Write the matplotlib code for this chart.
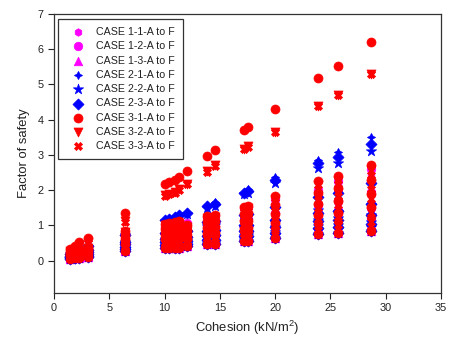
import numpy as np
import matplotlib
matplotlib.use("Agg")
import matplotlib.pyplot as plt

plt.rcParams['font.family'] = ['Liberation Sans', 'DejaVu Sans']
plt.rcParams['mathtext.default'] = 'regular'

# Cohesion values (kN/m^2), one column of points per value
cohesion = [1.45, 1.9, 2.3, 3.1, 6.4, 10.0, 10.4, 10.9, 11.3, 12.0,
            13.8, 14.6, 17.2, 17.5, 20.0, 23.9, 25.7, 28.7]

# Factor of safety, sub-cases A..F for every cohesion value
case_1_1 = [[.16,.12,.10,.08,.06,.05],[.19,.15,.12,.09,.07,.06],[.23,.18,.14,.11,.09,.08],
            [.33,.25,.20,.16,.13,.10],[.62,.50,.42,.36,.31,.27],[.92,.72,.58,.49,.42,.36],
            [.94,.73,.59,.50,.42,.36],[.96,.74,.60,.50,.43,.36],[.99,.75,.61,.51,.43,.36],
            [1.02,.77,.63,.54,.46,.40],[1.18,.92,.75,.63,.54,.47],[1.22,.95,.77,.65,.55,.47],
            [1.45,1.12,.90,.76,.64,.56],[1.48,1.14,.92,.77,.65,.56],[1.70,1.32,1.05,.88,.75,.64],
            [2.05,1.52,1.25,1.04,.88,.75],[2.18,1.64,1.32,1.09,.92,.78],[2.45,1.86,1.46,1.19,.99,.84]]
case_1_2 = [[.17,.13,.10,.08,.06,.05],[.20,.15,.12,.09,.07,.06],[.24,.19,.15,.12,.09,.08],
            [.35,.26,.21,.17,.13,.10],[.65,.52,.44,.37,.32,.27],[.96,.74,.60,.50,.43,.36],
            [.98,.75,.61,.51,.43,.36],[1.00,.76,.62,.52,.44,.36],[1.03,.78,.63,.53,.44,.36],
            [1.06,.80,.65,.55,.47,.40],[1.23,.95,.77,.65,.55,.47],[1.27,.98,.79,.66,.56,.47],
            [1.50,1.16,.93,.78,.66,.56],[1.53,1.18,.95,.79,.66,.56],[1.76,1.36,1.08,.90,.76,.64],
            [2.00,1.58,1.28,1.06,.89,.75],[2.25,1.70,1.36,1.12,.94,.78],[2.60,1.95,1.50,1.22,1.01,.84]]
case_1_3 = [[.15,.12,.09,.07,.06,.05],[.18,.14,.11,.09,.07,.06],[.22,.17,.14,.11,.09,.08],
            [.31,.24,.19,.15,.12,.10],[.59,.48,.41,.35,.31,.27],[.88,.70,.57,.48,.41,.36],
            [.90,.71,.58,.49,.41,.36],[.92,.72,.59,.49,.42,.36],[.95,.73,.60,.50,.42,.36],
            [.98,.75,.62,.53,.45,.40],[1.13,.89,.73,.62,.53,.47],[1.17,.92,.75,.63,.54,.47],
            [1.40,1.08,.88,.74,.63,.56],[1.43,1.10,.89,.75,.64,.56],[1.64,1.28,1.02,.86,.74,.64],
            [1.98,1.48,1.22,1.02,.87,.75],[2.10,1.58,1.28,1.07,.91,.78],[2.36,1.76,1.40,1.16,.97,.84]]
case_2_1 = [[.20,.15,.12,.09,.07,.05],[.24,.18,.14,.11,.08,.06],[.28,.22,.17,.13,.10,.08],
            [.42,.30,.24,.18,.13,.10],[.76,.55,.48,.40,.33,.27],[1.18,.80,.62,.52,.44,.36],
            [1.22,.81,.63,.53,.44,.36],[1.26,.82,.64,.54,.45,.36],[1.31,.83,.65,.55,.45,.36],
            [1.38,.85,.67,.57,.48,.40],[1.58,1.08,.80,.68,.57,.47],[1.66,1.10,.82,.70,.58,.47],
            [1.96,1.20,.93,.80,.68,.56],[2.04,1.22,.95,.81,.68,.56],[2.36,1.35,1.10,.92,.78,.64],
            [2.86,1.62,1.30,1.08,.92,.75],[3.08,1.70,1.36,1.13,.96,.78],[3.50,1.90,1.50,1.22,1.02,.84]]
case_2_2 = [[.18,.14,.11,.08,.06,.05],[.22,.17,.13,.10,.08,.06],[.26,.20,.16,.12,.10,.08],
            [.38,.28,.22,.17,.13,.10],[.72,.52,.45,.38,.32,.27],[1.12,.74,.60,.50,.42,.36],
            [1.16,.75,.61,.51,.43,.36],[1.20,.76,.62,.52,.43,.36],[1.25,.78,.63,.53,.44,.36],
            [1.32,.80,.65,.55,.47,.40],[1.50,.98,.78,.66,.56,.47],[1.56,1.00,.80,.68,.57,.47],
            [1.88,.93,.80,.70,.62,.56],[1.93,.95,.82,.72,.63,.56],[2.20,1.10,.95,.82,.72,.64],
            [2.63,1.44,1.15,.98,.86,.75],[2.77,1.39,1.20,1.02,.90,.78],[3.10,1.58,1.30,1.10,.96,.84]]
case_2_3 = [[.19,.14,.11,.09,.07,.05],[.23,.17,.13,.10,.08,.06],[.27,.21,.16,.13,.10,.08],
            [.40,.29,.23,.18,.14,.10],[.74,.53,.46,.39,.33,.27],[1.15,.78,.62,.52,.44,.36],
            [1.19,.79,.63,.53,.44,.36],[1.23,.80,.64,.54,.45,.36],[1.28,.81,.65,.55,.45,.36],
            [1.35,.83,.67,.57,.48,.40],[1.54,1.10,.84,.70,.58,.47],[1.60,1.12,.86,.72,.59,.47],
            [1.92,1.30,1.00,.84,.70,.56],[1.98,1.32,1.02,.85,.70,.56],[2.29,1.52,1.15,.95,.78,.64],
            [2.77,1.80,1.36,1.12,.92,.75],[2.95,1.93,1.42,1.16,.96,.78],[3.30,2.20,1.60,1.28,1.04,.84]]
case_3_1 = [[.32,.24,.20,.16,.12,.05],[.40,.28,.23,.19,.14,.06],[.52,.33,.28,.22,.17,.08],
            [.64,.38,.32,.26,.20,.10],[1.35,.85,.73,.60,.48,.27],[2.18,1.05,.90,.75,.61,.36],
            [2.24,1.07,.92,.77,.61,.36],[2.30,1.10,.94,.78,.62,.36],[2.38,1.12,.96,.79,.63,.36],
            [2.55,1.00,.87,.74,.61,.40],[2.98,1.27,1.10,.93,.76,.47],[3.15,1.30,1.12,.94,.77,.47],
            [3.70,1.52,1.31,1.11,.90,.56],[3.79,1.55,1.34,1.13,.92,.56],[4.30,1.82,1.57,1.31,1.06,.64],
            [5.18,2.25,1.93,1.61,1.29,.75],[5.52,2.39,2.05,1.70,1.36,.78],[6.20,2.70,2.30,1.90,1.51,.84]]
case_3_2 = [[.27,.23,.19,.15,.10,.08],[.34,.26,.22,.17,.12,.09],[.44,.31,.26,.20,.15,.11],
            [.52,.36,.30,.24,.18,.14],[1.12,.81,.68,.56,.44,.35],[1.85,1.00,.85,.71,.56,.46],
            [1.90,1.02,.87,.72,.56,.46],[1.95,1.05,.89,.73,.57,.47],[2.02,1.07,.90,.74,.58,.47],
            [2.18,.96,.83,.70,.57,.49],[2.53,1.21,1.04,.87,.70,.59],[2.70,1.24,1.06,.88,.71,.59],
            [3.18,1.45,1.25,1.04,.83,.70],[3.24,1.48,1.27,1.06,.85,.70],[3.66,1.74,1.48,1.23,.98,.81],
            [4.40,2.14,1.82,1.50,1.18,.96],[4.71,2.27,1.93,1.59,1.24,1.01],[5.31,2.57,2.17,1.77,1.37,1.11]]
case_3_3 = [[.26,.21,.17,.13,.09,.06],[.33,.25,.20,.15,.11,.08],[.43,.29,.24,.19,.13,.10],
            [.51,.34,.28,.22,.16,.12],[1.10,.77,.64,.52,.39,.31],[1.83,.95,.80,.66,.51,.41],
            [1.88,.97,.82,.66,.51,.41],[1.93,.99,.84,.68,.52,.41],[2.00,1.01,.85,.69,.52,.41],
            [2.16,.91,.79,.66,.53,.44],[2.51,1.16,.98,.81,.64,.53],[2.68,1.18,1.00,.83,.65,.53],
            [3.16,1.38,1.18,.97,.77,.63],[3.22,1.41,1.20,.99,.78,.63],[3.64,1.65,1.40,1.15,.89,.72],
            [4.38,2.04,1.71,1.39,1.07,.86],[4.69,2.16,1.82,1.47,1.13,.90],[5.29,2.43,2.04,1.64,1.24,.97]]

labels = ['CASE 1-1-A to F', 'CASE 1-2-A to F', 'CASE 1-3-A to F',
          'CASE 2-1-A to F', 'CASE 2-2-A to F', 'CASE 2-3-A to F',
          'CASE 3-1-A to F', 'CASE 3-2-A to F', 'CASE 3-3-A to F']
series = [case_1_1, case_1_2, case_1_3, case_2_1, case_2_2, case_2_3,
          case_3_1, case_3_2, case_3_3]
colors = ['#FF00FF'] * 3 + ['#0000FF'] * 3 + ['#FF0000'] * 3
markers = ['h', 'o', '^', (4, 1, 0), '*', 'D', 'o', 'v', 'X']
sizes = [30, 38, 38, 34, 60, 32, 42, 42, 34]

fig = plt.figure(figsize=(4.49, 3.43), dpi=100)
ax = fig.add_axes([54/449, 1-293/343, 387/449, 279/343])

for vals, lab, col, mk, sz in zip(series, labels, colors, markers, sizes):
    arr = np.asarray(vals)
    xs = np.repeat(cohesion, arr.shape[1])
    ax.scatter(xs, arr.ravel(), s=sz, marker=mk, color=col, edgecolors=col,
               linewidths=0.5, label=lab, zorder=3)

ax.set_xlim(0, 35)
ax.set_ylim(-0.92, 7)
ax.set_xticks(range(0, 36, 5))
ax.set_yticks(range(0, 8))
ax.tick_params(direction='out', length=4, width=0.8, labelsize=7.8, pad=3.5,
               colors='#222222')
for sp in ax.spines.values():
    sp.set_linewidth(0.9)
    sp.set_color('#333333')

ax.set_xlabel('Cohesion (kN/m$^2$)', fontsize=9.4, labelpad=4, color='#222222')
ax.set_ylabel('Factor of safety', fontsize=9.4, labelpad=5.5, color='#222222')

leg = ax.legend(loc='upper left', bbox_to_anchor=(4/387, 1-5/279), borderaxespad=0,
                fontsize=7.7, scatterpoints=1, frameon=True, fancybox=False,
                edgecolor='black', borderpad=0.75, labelspacing=0.4,
                handlelength=2.2, handletextpad=0.6)
leg.get_frame().set_linewidth(0.9)
for t in leg.get_texts():
    t.set_color('#222222')

fig.savefig('out.png', dpi=100)
